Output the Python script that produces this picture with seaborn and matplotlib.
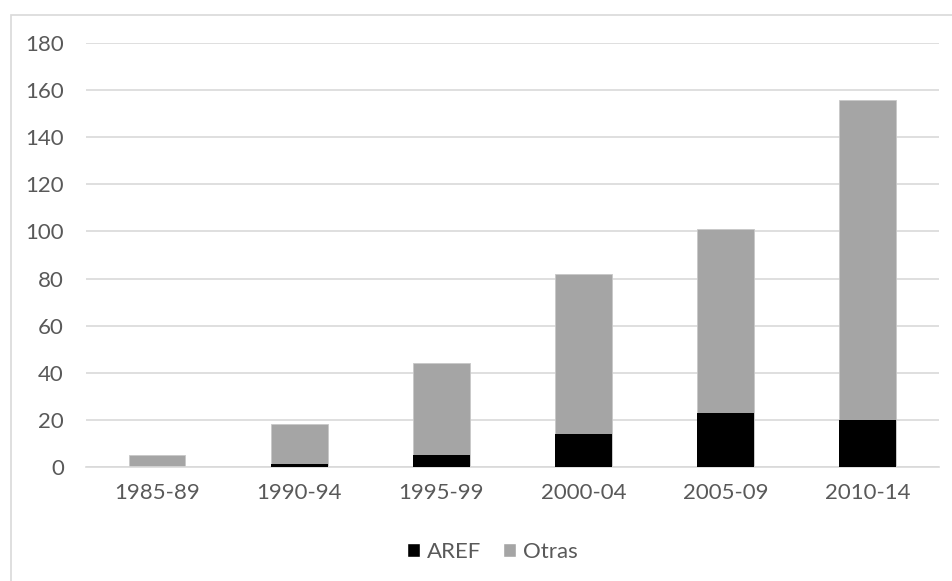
import pandas as pd
import matplotlib.pyplot as plt
import seaborn as sns
from matplotlib.patches import Patch, Rectangle

periodos = ["1985-89", "1990-94", "1995-99", "2000-04", "2005-09", "2010-14"]
aref = [0, 1, 5, 14, 23, 20]
otras = [5, 17, 39, 68, 78, 136]
yticks = [0, 20, 40, 60, 80, 100, 120, 140, 160, 180]

df = pd.DataFrame({"periodo": periodos, "AREF": aref, "Otras": otras})
df["total"] = df["AREF"] + df["Otras"]

sns.set_theme(style="white")
plt.rcParams["font.family"] = ["Lato", "DejaVu Sans"]
text_color = "#595959"
grid_color = "#D9D9D9"

fig = plt.figure(figsize=(9.52, 5.81), dpi=100)
ax = fig.add_axes([86 / 952, 1 - 466.7 / 581, (938.7 - 86) / 952, (466.7 - 43.3) / 581])

# stacked bars: total in grey, AREF on top of it in black
sns.barplot(data=df, x="periodo", y="total", color="#A5A5A5", width=0.4,
            saturation=1, edgecolor="#C8C8C8", linewidth=0.6, ax=ax, zorder=2)
sns.barplot(data=df, x="periodo", y="AREF", color="#000000", width=0.4,
            saturation=1, linewidth=0, ax=ax, zorder=3)

ax.set_ylim(0, 180)
ax.set_yticks(yticks)
ax.yaxis.grid(True, color=grid_color, linewidth=1.2, zorder=0)
ax.set_axisbelow(True)
for side in ["top", "right", "left"]:
    ax.spines[side].set_visible(False)
ax.spines["bottom"].set_color(grid_color)
ax.spines["bottom"].set_linewidth(1.2)
ax.set_xlabel("")
ax.set_ylabel("")
ax.tick_params(axis="both", length=0, labelsize=16, labelcolor=text_color)
ax.tick_params(axis="y", pad=16)
ax.tick_params(axis="x", pad=12)

handles = [Patch(facecolor="#000000", label="AREF"),
           Patch(facecolor="#A5A5A5", label="Otras")]
fig.legend(handles=handles, loc="center", bbox_to_anchor=(0.517, 1 - 552 / 581),
           ncol=2, frameon=False, fontsize=16, labelcolor=text_color,
           handlelength=0.6, handleheight=0.6, handletextpad=0.3, columnspacing=1.0)

# chart area border
fig.patches.append(Rectangle((11 / 952, -0.05), 1.0, 1 - 15 / 581 + 0.05,
                             transform=fig.transFigure, fill=False,
                             edgecolor=grid_color, linewidth=1.2))

fig.savefig("out.png", dpi=100)
